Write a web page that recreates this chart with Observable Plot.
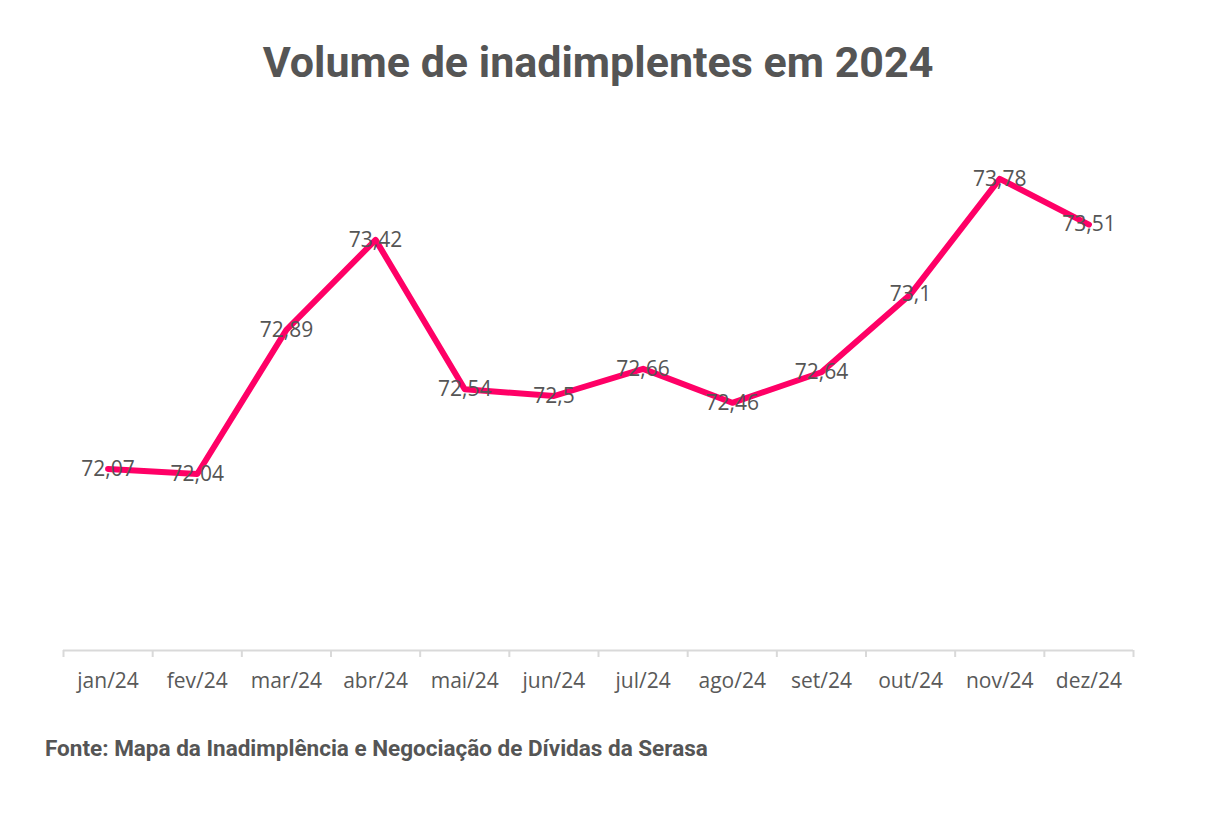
<!DOCTYPE html>
<html>
<head>
<meta charset="utf-8">
<script src="https://cdn.jsdelivr.net/npm/d3@7"></script>
<script src="https://cdn.jsdelivr.net/npm/@observablehq/plot@0.6"></script>
<style>
  html, body { margin: 0; padding: 0; background: #fff; }
  body { position: relative; width: 1210px; height: 815px; overflow: hidden; }
  #title { position: absolute; left: 0; top: 41px; width: 1196px; text-align: center;
    font-family: Roboto, sans-serif; font-weight: 700; font-size: 43px; line-height: 43px; color: #555; margin: 0; }
  #chart { position: absolute; left: 0; top: 100px; }
  #caption { position: absolute; left: 45px; top: 737px; font-family: Roboto, sans-serif; font-weight: 700;
    font-size: 22.5px; line-height: 22px; color: #555; }
</style>
</head>
<body>
<div id="title">Volume de inadimplentes em 2024</div>
<div id="chart"></div>
<div id="caption">Fonte: Mapa da Inadimplência e Negociação de Dívidas da Serasa</div>
<script>
const months = ["jan/24","fev/24","mar/24","abr/24","mai/24","jun/24","jul/24","ago/24","set/24","out/24","nov/24","dez/24"];
const values = [72.07, 72.04, 72.89, 73.42, 72.54, 72.5, 72.66, 72.46, 72.64, 73.1, 73.78, 73.51];

const data = months.map((m, i) => ({i, month: m, value: values[i]}));
const idx = months.map((_, i) => i);
const bounds = [...months.map((_, i) => i - 0.5), months.length - 0.5];
const fmt = v => String(v).replace(".", ",");
const font = "'Open Sans', sans-serif";

const plot = Plot.plot({
  width: 1210,
  height: 630,
  marginLeft: 63,
  marginRight: 77,
  marginTop: 41,
  marginBottom: 80,
  style: {fontFamily: font, background: "transparent"},
  x: {type: "linear", domain: [-0.5, months.length - 0.5], axis: null, label: null},
  y: {domain: [71, 74], axis: null, label: null},
  marks: [
    Plot.ruleY([71], {stroke: "#d9d9d9", strokeWidth: 2}),
    Plot.axisX(bounds, {tickSize: 7, tickFormat: () => "", stroke: "#d9d9d9", strokeWidth: 2, label: null}),
    Plot.axisX(idx, {tickSize: 0, tickPadding: 23, tickFormat: i => months[i], fontSize: 21, fill: "#595959", fontFamily: font, label: null}),
    Plot.line(data, {x: "i", y: "value", stroke: "#ff0066", strokeWidth: 6, strokeLinejoin: "round", strokeLinecap: "round"}),
    Plot.text(data, {x: "i", y: "value", text: d => fmt(d.value), fontSize: 21, fill: "#555", fontFamily: font})
  ]
});
document.getElementById("chart").appendChild(plot);
</script>
</body>
</html>
